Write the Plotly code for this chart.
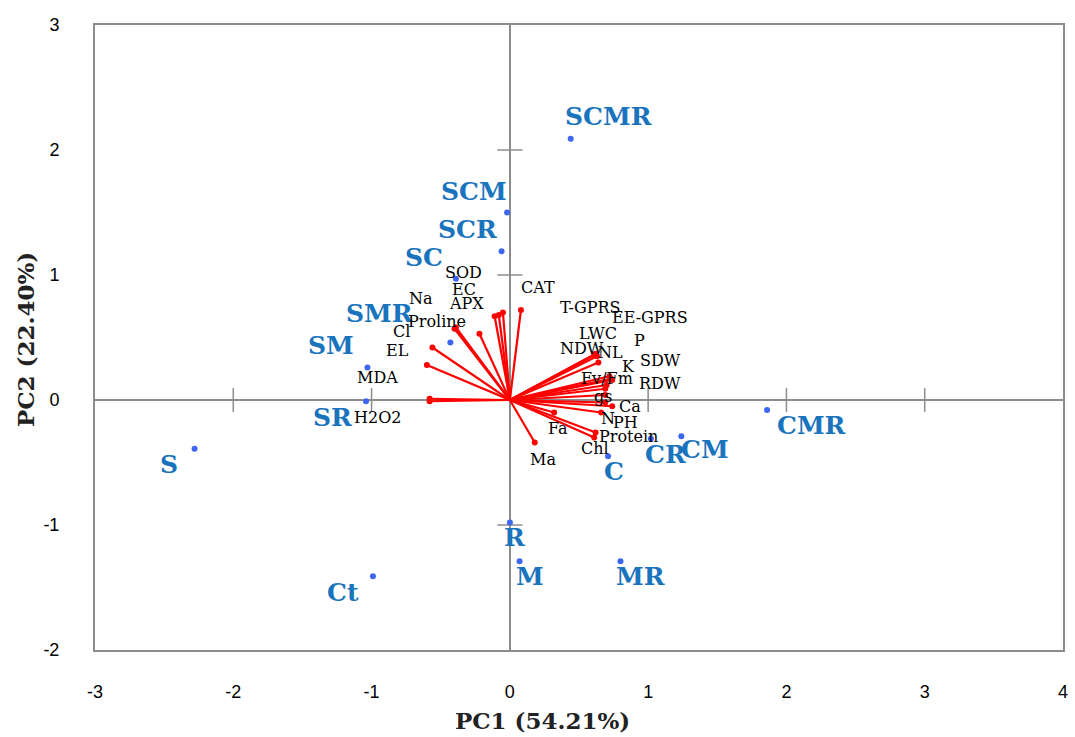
import plotly.graph_objects as go

# ---------------- data ----------------
treatments = ["SCMR", "SCM", "SCR", "SC", "SMR", "SM", "SR", "S", "Ct",
              "R", "M", "MR", "C", "CR", "CM", "CMR"]
score_pc1 = [0.44, -0.02, -0.06, -0.39, -0.43, -1.03, -1.04, -2.28, -0.99,
             0.00, 0.07, 0.80, 0.71, 1.02, 1.24, 1.86]
score_pc2 = [2.09, 1.50, 1.19, 0.97, 0.46, 0.26, -0.01, -0.39, -1.41,
             -0.98, -1.29, -1.29, -0.45, -0.31, -0.29, -0.08]

variables = ["T-GPRS", "CAT", "SOD", "EC", "APX", "Proline", "Na", "Cl", "EL",
             "MDA", "H2O2", "EE-GPRS", "LWC", "NDW", "NL", "P", "K", "Fv/Fm",
             "SDW", "RDW", "gs", "N", "Ca", "PH", "Protein", "Chl", "Fa", "Ma"]
load_pc1 = [0.08, -0.05, -0.11, -0.08, -0.22, -0.39, -0.40, -0.56, -0.60,
            -0.58, -0.58, 0.63, 0.61, 0.62, 0.64, 0.72, 0.74, 0.73,
            0.70, 0.69, 0.69, 0.69, 0.74, 0.66, 0.62, 0.61, 0.32, 0.18]
load_pc2 = [0.72, 0.70, 0.67, 0.68, 0.53, 0.58, 0.57, 0.42, 0.28,
            0.01, -0.01, 0.35, 0.36, 0.37, 0.30, 0.19, 0.16, 0.17,
            0.12, 0.09, 0.04, -0.02, -0.05, -0.10, -0.26, -0.30, -0.10, -0.34]

x_ticks = [-3, -2, -1, 0, 1, 2, 3, 4]
y_ticks = [-2, -1, 0, 1, 2, 3]
x_tick_text = [str(t) for t in x_ticks]
y_tick_text = [str(t) for t in y_ticks]

# ------------- label placement (pixel offsets, styling) -------------
treat_offsets = [(38, 22), (-33, 21), (-34, 22), (-32, 21), (-71, 29), (-36, 22),
                 (-34, -16), (-26, -16), (-30, -16), (5, -15), (10, -15),
                 (20, -15), (6, -15), (15, -16), (24, -13), (44, -15)]
var_offsets = [(70, 3), (35, 25), (-31, 44), (-35, 26), (-13, 30), (-19, 6),
               (-34, 30), (-31, 16), (-29, 15), (-52, 21), (-52, -16),
               (53, 39), (4, 22), (-14, 5), (12, 10), (30, 36), (16, 14),
               (-4, 0), (54, 25), (55, 5), (-2, -1), (3, -16), (18, 0),
               (24, -10), (33, -4), (1, -11), (4, -16), (8, -17)]

GRAY = "#8c8c8c"
RED = "#ff0000"
BLUE_TXT = "#1a74bd"
BLUE_DOT = "#3f66f0"
SERIF = "DejaVu Serif"

fig = go.Figure()

# vectors
vx, vy = [], []
for a, b in zip(load_pc1, load_pc2):
    vx += [0, a, None]
    vy += [0, b, None]
fig.add_trace(go.Scatter(x=vx, y=vy, mode="lines",
                         line=dict(color=RED, width=2.2), hoverinfo="skip",
                         showlegend=False))
fig.add_trace(go.Scatter(x=load_pc1, y=load_pc2, mode="markers",
                         marker=dict(color=RED, size=6), text=variables,
                         showlegend=False))

# axis cross ticks on the zero lines
xt = [t for t in x_ticks if t not in (0, x_ticks[0], x_ticks[-1])]
yt = [t for t in y_ticks if t not in (0, y_ticks[0], y_ticks[-1])]
fig.add_trace(go.Scatter(x=xt, y=[0] * len(xt), mode="markers",
                         marker=dict(symbol="line-ns", size=17,
                                     line=dict(color=GRAY, width=1.5)),
                         hoverinfo="skip", showlegend=False))
fig.add_trace(go.Scatter(x=[0] * len(yt), y=yt, mode="markers",
                         marker=dict(symbol="line-ew", size=18,
                                     line=dict(color=GRAY, width=1.5)),
                         hoverinfo="skip", showlegend=False))

# scores
fig.add_trace(go.Scatter(x=score_pc1, y=score_pc2, mode="markers",
                         marker=dict(color=BLUE_DOT, size=6), text=treatments,
                         showlegend=False))

annotations = []
for name, a, b, (dx, dy) in zip(treatments, score_pc1, score_pc2, treat_offsets):
    annotations.append(dict(x=a, y=b, text="<b>%s</b>" % name, showarrow=False,
                            xshift=dx, yshift=dy,
                            font=dict(family=SERIF, size=25, color=BLUE_TXT)))
for name, a, b, (dx, dy) in zip(variables, load_pc1, load_pc2, var_offsets):
    annotations.append(dict(x=a, y=b, text=name, showarrow=False,
                            xshift=dx, yshift=dy,
                            font=dict(family=SERIF, size=16, color="black")))

annotations.append(dict(xref="paper", yref="paper", x=0.4625, y=0,
                        yshift=-70, text="<b>PC1 (54.21%)</b>", showarrow=False,
                        yanchor="middle",
                        font=dict(family=SERIF, size=23, color="#222")))
annotations.append(dict(xref="paper", yref="paper", x=0, y=0.496,
                        xshift=-70, text="<b>PC2 (22.40%)</b>", showarrow=False,
                        textangle=-90, xanchor="center",
                        font=dict(family=SERIF, size=23, color="#222")))

axis_common = dict(showgrid=False, zeroline=True, zerolinecolor=GRAY,
                   zerolinewidth=1.5, showline=True, linecolor=GRAY,
                   linewidth=2, mirror=True, ticks="",
                   tickfont=dict(family="Liberation Sans", size=18, color="black"))

fig.update_layout(
    width=1075, height=737,
    margin=dict(l=95, r=7, t=25, b=87),
    paper_bgcolor="white", plot_bgcolor="white",
    annotations=annotations,
    xaxis=dict(range=[x_ticks[0], x_ticks[-1]], tickvals=x_ticks,
               ticktext=x_tick_text, ticklabelstandoff=24, **axis_common),
    yaxis=dict(range=[y_ticks[0], y_ticks[-1]], tickvals=y_ticks,
               ticktext=y_tick_text, ticklabelstandoff=30, **axis_common),
)

fig.write_html("out.html")
